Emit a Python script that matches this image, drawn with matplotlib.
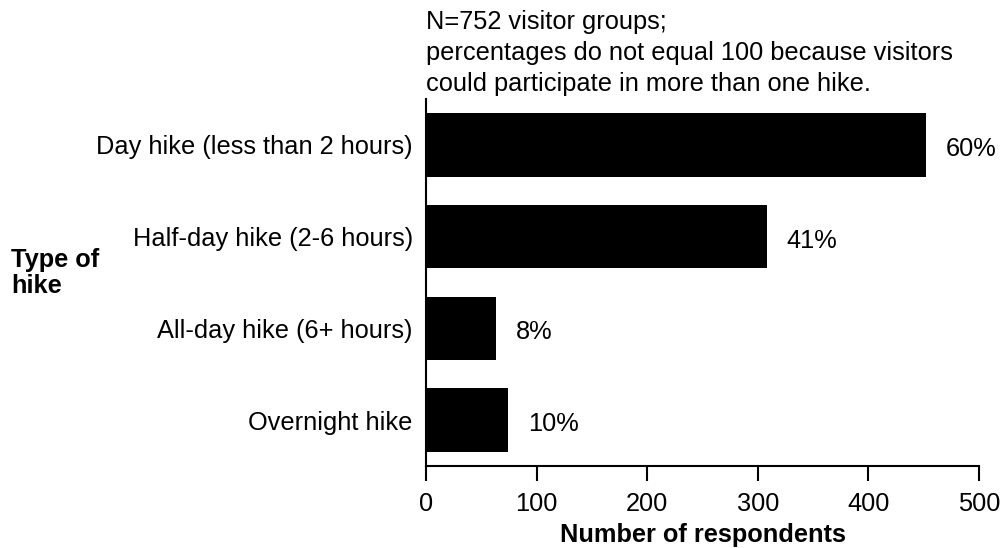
import numpy as np
import matplotlib
matplotlib.use("Agg")
import matplotlib.pyplot as plt
from matplotlib.transforms import offset_copy

# > Data:
categories = [
    "Day hike (less than 2 hours)",
    "Half-day hike (2-6 hours)",
    "All-day hike (6+ hours)",
    "Overnight hike",
]
counts = [452, 308, 63, 74]
percent_labels = ["60%", "41%", "8%", "10%"]
xticks = [0, 100, 200, 300, 400, 500]
note = ("N=752 visitor groups;\n"
        "percentages do not equal 100 because visitors\n"
        "could participate in more than one hike.")
# <

# > Font setting:
plt.rcParams["font.family"] = ["Liberation Sans", "DejaVu Sans"]
FONT = 18.3
# <

fig = plt.figure(figsize=(10, 5.48), dpi=100)
ax = fig.add_axes([0.426, 0.1496, 0.553, 0.6697])

y = np.arange(len(categories))
ax.barh(y, counts, height=0.69, color="black")

ax.set_ylim(len(categories) - 0.5, -0.5)
ax.set_xlim(0, 500)
ax.set_xticks(xticks)
ax.set_yticks(y)
ax.set_yticklabels(categories, fontsize=FONT)
ax.tick_params(axis="y", length=0, pad=9.5)
ax.tick_params(axis="x", length=11, width=1.5, direction="out",
               labelsize=FONT, pad=8)

for s in ["top", "right"]:
    ax.spines[s].set_visible(False)
for s in ["left", "bottom"]:
    ax.spines[s].set_linewidth(1.5)

# percentage labels to the right of each bar
for yi, c, lab in zip(y, counts, percent_labels):
    tr = offset_copy(ax.transData, fig=fig, x=20, y=-4, units="dots")
    ax.text(c, yi, lab, transform=tr, ha="left", va="center", fontsize=FONT)

ax.set_xlabel("Number of respondents", fontsize=FONT, fontweight="bold",
              labelpad=5)

# note above the plot
fig.text(0.426, 1 - 53 / 548, note, ha="left", va="center", fontsize=FONT,
         linespacing=1.37)

# y axis title
fig.text(0.011, 1 - 273 / 548, "Type of\nhike", ha="left", va="center",
         fontsize=FONT, fontweight="bold", linespacing=1.15)

fig.savefig("out.png", dpi=100)
